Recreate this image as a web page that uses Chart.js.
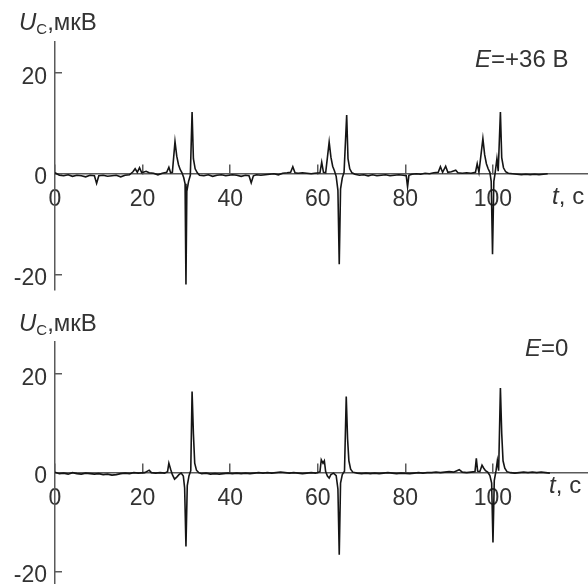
<!DOCTYPE html>
<html lang="ru">
<head>
    <meta charset="UTF-8">
    <title>U_C(t)</title>
    <script src="https://cdn.jsdelivr.net/npm/chart.js"></script>
    <style>
        body { margin: 0; background: #fff; }
        #wrap { position: relative; width: 588px; height: 584px; overflow: hidden; }
        canvas { position: absolute; left: 0; }
        .lbl {
            position: absolute; white-space: nowrap;
            font-family: "Liberation Sans", Arial, sans-serif;
            font-size: 24px; line-height: 1; color: #333;
        }
        .lbl i { font-style: italic; }
        .lbl .sub { font-size: 15px; position: relative; top: 4px; }
        .lbl .gap { margin-left: 7px; }
    </style>
</head>
<body>
<div id="wrap">
    <canvas id="chartTop" width="588" height="292" style="top:0"></canvas>
    <canvas id="chartBottom" width="588" height="292" style="top:292px"></canvas>

    <div class="lbl" style="left:19px; top:10px"><i>U</i><span class="sub">C</span>,мкВ</div>
    <div class="lbl" style="left:475px; top:47px"><i>E</i>=+36 В</div>
    <div class="lbl" style="left:552px; top:184px"><i>t</i>,<span class="gap">c</span></div>

    <div class="lbl" style="left:19px; top:311px"><i>U</i><span class="sub">C</span>,мкВ</div>
    <div class="lbl" style="left:525px; top:336px"><i>E</i>=0</div>
    <div class="lbl" style="left:549px; top:473px"><i>t</i>,<span class="gap">c</span></div>
</div>

<script>
    // tick labels
    const xTicks = [0, 20, 40, 60, 80, 100];
    const yTicks = [-20, 0, 20];

    // E = +36 V, time (s) and signal (uV)
    const tTop = [0, 1, 2, 3, 4, 5, 6, 7, 8, 9, 9.5, 10, 11, 12, 13, 14, 15, 16, 17, 17.8, 18.3, 18.8, 19.3, 19.8,
        20.8, 21.5, 22.5, 23.5, 24.5, 25.5, 26.0, 26.4, 26.8, 27.4, 27.8, 28.2, 28.6, 29.0, 29.4, 29.7, 29.9, 30.1,
        30.5, 30.9, 31.3, 31.6, 32.0, 32.5, 33, 34, 35, 36, 37, 38, 39, 40.5, 41.5, 42.5, 43.5, 44.3, 44.8, 45.3,
        46, 47, 48, 49, 50, 51, 52, 53, 53.8, 54.3, 54.8, 55.5, 56.5, 57.5, 58.5, 59.3, 60.5, 60.9, 61.3, 61.8,
        62.6, 63.0, 63.4, 63.8, 64.2, 64.6, 64.9, 65.2, 65.6, 66.0, 66.6, 66.9, 67.3, 67.8, 68.5, 69.5, 70.5, 71.5,
        72.5, 73.5, 74.5, 75.5, 76.5, 77.5, 78.5, 79.5, 80.2, 80.5, 80.8, 81.5, 82.5, 83.5, 84.5, 85.5, 86.5, 87.5,
        88, 88.5, 89.2, 89.7, 90.5, 91.5, 92, 93, 94, 95, 96, 96.4, 96.8, 97.7, 98.1, 98.5, 98.9, 99.3, 99.6, 99.9,
        100.2, 100.5, 100.9, 101.2, 101.7, 102.0, 102.4, 102.9, 103.5, 104.5, 105.5, 106.5, 107.5, 108.5, 109.5,
        110.5, 111.5, 112.5];
    const uTop = [0.2, -0.3, -0.4, -0.2, -0.5, -0.3, -0.4, -0.6, -0.3, -0.4, -1.9, -0.4, -0.3, -0.5, -0.4, -0.3, -0.6, -0.3, -0.2, 0.4, 1.0, 0.3, 1.2, 0.2,
        0.5, 0.2, 0.1, -0.2, 0.1, 0.3, 1.3, 0.2, 0.3, 6.4, 3.5, 1.8, 0.8, 0.2, -0.8, -2.0, -22, -3.5,
        -1.5, -0.3, 12.3, 3.0, 1.0, 0.2, -0.3, -0.4, -0.2, -0.5, -0.3, -0.2, -0.4, -0.2, -0.3, -0.5, -0.3, -0.4, -1.8, -0.4,
        -0.2, -0.3, -0.2, -0.1, 0, -0.2, 0.1, 0.2, 0.3, 1.4, 0.2, 0.1, 0.2, 0.1, 0, 0.1, 0.2, 2.3, 0.3, 0.2,
        6.3, 3.3, 1.5, 0.6, -0.5, -3.3, -18, -3, -0.8, 0.3, 11.7, 3, 1, 0.2, -0.1, -0.3, -0.2, -0.4,
        -0.2, -0.4, -0.3, -0.2, -0.4, -0.3, -0.2, -0.3, -0.4, -2.6, -0.3, -0.1, 0, -0.1, 0.1, 0, 0.2, 0.3,
        1.4, 0.3, 1.5, 0.3, 0.4, 0.7, 0.2, 0.1, 0.2, 0.1, 0.3, 2.0, 0.3, 7.0, 3.8, 2.0, 1.0, 0.3, -1.5, -16,
        -1.5, 0.2, 3.0, 0.5, 12.3, 3.2, 1.2, 0.4, 0.1, 0, -0.1, -0.2, -0.1, -0.2, -0.1,
        -0.2, -0.1, 0];

    // E = 0, time (s) and signal (uV)
    const tBottom = [0, 1, 2, 3, 4, 5, 6, 7, 8, 9, 10, 11, 12, 13, 14, 15, 16, 17, 18, 19, 20.5, 21.5, 22, 23, 24, 25,
        25.7, 26.0, 26.4, 26.8, 27.3, 27.8, 28.3, 28.8, 29.3, 29.6, 29.9, 30.2, 30.6, 31.0, 31.3, 31.6, 31.9, 32.3,
        32.8, 33.5, 34.5, 35.5, 36.5, 37.5, 38.5, 39.5, 40.5, 41.5, 42.5, 43.5, 44.5, 45.5, 46.5, 47.5, 48.5, 49.5,
        50.5, 51.5, 52.5, 53.5, 54.5, 55.5, 56.5, 57.5, 58.5, 59.5, 60.5, 60.8, 61.2, 61.5, 61.8, 62.2, 62.6, 63.0,
        63.6, 64.2, 64.6, 64.9, 65.2, 65.6, 66.1, 66.5, 66.8, 67.1, 67.5, 68, 69, 70, 71, 72, 73, 74, 75, 76, 77,
        78, 79, 81, 82, 83, 84, 85, 86, 87, 88, 89, 90, 91, 92.3, 93, 94, 95, 95.9, 96.2, 96.5, 97.0, 97.5, 97.9,
        98.3, 98.8, 99.3, 99.7, 100.0, 100.3, 100.7, 101.0, 101.3, 101.7, 102.0, 102.3, 102.7, 103.2, 104, 105,
        106, 107, 108, 109, 110, 111, 112, 113];
    const uBottom = [0.2, -0.1, 0, -0.2, 0.1, -0.1, -0.2, 0, -0.1, -0.2, -0.1, -0.3, -0.2, -0.4, -0.3, -0.1, 0, -0.1, 0.1, 0, 0.1, 0.6, 0.1, 0, 0.1, 0,
        0.3, 2.0, 0.8, -0.3, -1.2, -0.8, -0.3, 0, -0.6, -3.0, -14.8, -2.5, -0.5, 0.5, 16.5, 8, 2.0, 0.6,
        0.1, -0.1, 0, -0.2, -0.1, -0.2, -0.1, 0, -0.1, 0, -0.1, 0, -0.1, 0, 0.1, 0, 0.1, 0,
        0.1, 0.2, 0.1, 0, 0.1, 0, -0.1, 0, 0.1, 0, 0.3, 2.7, 2.0, 2.5, 0.3, -0.6, -1.0, -0.3,
        0, -0.5, -3.2, -16.5, -2, -0.3, 0.4, 15.5, 7, 2.5, 0.8, 0.2, 0, -0.1, 0, -0.1, 0, -0.1, 0, 0.1, 0,
        -0.1, 0, -0.1, 0, 0.1, 0, 0.1, 0.1, 0.2, 0.1, 0.2, 0.3, 0.2, 0.7, 0.2, 0.1, 0.2, 0.3, 3.0, 0.4, 0.3, 1.6, 1.0,
        0.5, 0.2, -0.5, -2.0, -14, -1.5, 0.5, 2.5, 0.5, 17.2, 8, 2.5, 1, 0.3, 0.1, 0,
        0.1, 0.2, 0.1, 0.2, 0.1, 0.2, 0.1, 0];

    Chart.defaults.font.family = '"Liberation Sans", Arial, sans-serif';
    Chart.defaults.color = '#333';

    const axisColor = '#5a5a5a';

    // keep the scales from reserving room for overhanging labels
    function noPadding(s) {
        s.paddingLeft = 0;
        s.paddingRight = 0;
        s.paddingTop = 0;
        s.paddingBottom = 0;
    }

    function makeChart(canvasId, times, values, yMin, yMax, padTop, padBottom) {
        const ctx = document.getElementById(canvasId).getContext('2d');
        return new Chart(ctx, {
            type: 'line',
            data: {
                datasets: [{
                    data: times.map((t, i) => ({ x: t, y: values[i] })),
                    borderColor: '#151515',
                    borderWidth: 1.6,
                    pointRadius: 0,
                    tension: 0,
                    fill: false
                }]
            },
            options: {
                responsive: false,
                animation: false,
                layout: { padding: { top: padTop, bottom: padBottom, left: 0, right: 0 } },
                plugins: { legend: { display: false }, tooltip: { enabled: false } },
                scales: {
                    x: {
                        type: 'linear',
                        min: 0,
                        max: 121.7,
                        position: { y: 0 },
                        z: 1,
                        afterFit: s => { s.height = 0; noPadding(s); },
                        afterBuildTicks: s => { s.ticks = xTicks.map(v => ({ value: v })); },
                        border: { display: true, color: axisColor, width: 1.5 },
                        grid: {
                            drawOnChartArea: false, drawTicks: true, tickLength: -10,
                            color: axisColor, lineWidth: 1.5
                        },
                        ticks: {
                            font: { size: 23 },
                            color: '#333',
                            padding: 22,
                            maxRotation: 0,
                            autoSkip: false,
                            showLabelBackdrop: true,
                            backdropColor: '#fff',
                            backdropPadding: ctx => ctx.index === 0
                                ? { top: 12, bottom: 0, left: 0, right: 0 }
                                : { top: 0, bottom: 0, left: 0, right: 0 }
                        }
                    },
                    y: {
                        type: 'linear',
                        min: yMin,
                        max: yMax,
                        position: 'left',
                        afterFit: s => { s.width = 55; noPadding(s); },
                        afterBuildTicks: s => { s.ticks = yTicks.map(v => ({ value: v })); },
                        border: { display: true, color: axisColor, width: 1.5 },
                        grid: {
                            drawOnChartArea: false, drawTicks: true, tickLength: -7,
                            color: axisColor, lineWidth: 1.5
                        },
                        ticks: {
                            font: { size: 23 },
                            color: '#333',
                            padding: 15,
                            labelOffset: 4
                        }
                    }
                }
            }
        });
    }

    makeChart('chartTop', tTop, uTop, -23.1, 26.2, 42, 2);
    makeChart('chartBottom', tBottom, uBottom, -22.4, 26.5, 50, 0);
</script>
</body>
</html>
